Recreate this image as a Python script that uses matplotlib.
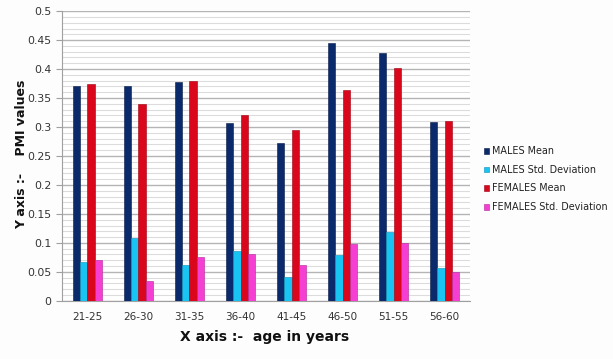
import numpy as np
import matplotlib
matplotlib.use("Agg")
import matplotlib.pyplot as plt
from matplotlib.ticker import MultipleLocator, FuncFormatter

# Data
age_groups = ["21-25", "26-30", "31-35", "36-40", "41-45", "46-50", "51-55", "56-60"]
males_mean = [0.371, 0.371, 0.377, 0.307, 0.272, 0.445, 0.427, 0.309]
males_sd = [0.067, 0.109, 0.061, 0.086, 0.041, 0.079, 0.119, 0.057]
females_mean = [0.374, 0.340, 0.380, 0.321, 0.295, 0.364, 0.402, 0.311]
females_sd = [0.070, 0.034, 0.075, 0.080, 0.061, 0.098, 0.099, 0.050]

series = [
    ("MALES Mean", males_mean, "#0b2a6b", "#061a48"),
    ("MALES Std. Deviation", males_sd, "#19c3f2", "#0d8fb5"),
    ("FEMALES Mean", females_mean, "#d9061c", "#9c0010"),
    ("FEMALES Std. Deviation", females_sd, "#f43fd2", "#b02596"),
]

fig = plt.figure(figsize=(6.13, 3.59), dpi=100, facecolor="#fdfdfd")
ax = fig.add_axes([0.101, 0.162, 0.666, 0.807])
ax.set_facecolor("white")

x = np.arange(len(age_groups))
bar_w = 0.145
for i, (name, vals, color, edge) in enumerate(series):
    ax.bar(x + (i - 1.5) * bar_w, vals, width=bar_w, color=color,
           edgecolor=edge, linewidth=0.4, label=name, zorder=3)

ax.set_xlim(-0.5, len(age_groups) - 0.5)
ax.set_ylim(0, 0.5)
ax.yaxis.set_major_locator(MultipleLocator(0.05))
ax.yaxis.set_minor_locator(MultipleLocator(0.01))
ax.yaxis.set_major_formatter(FuncFormatter(lambda v, p: f"{round(v, 2):g}"))
ax.grid(which="major", axis="y", color="#b4b4b4", linewidth=1.0, zorder=0)
ax.grid(which="minor", axis="y", color="#dcdcdc", linewidth=0.8, zorder=0)

ax.set_xticks(x)
ax.set_xticklabels(age_groups)
ax.tick_params(axis="x", length=0, pad=8, labelsize=7.5, colors="#333333")
ax.tick_params(axis="y", which="major", length=4, width=0.8, color="#a0a0a0",
               labelsize=7.8, labelcolor="#333333")
ax.tick_params(axis="y", which="minor", length=0)

for side in ["top", "right"]:
    ax.spines[side].set_visible(False)
for side in ["left", "bottom"]:
    ax.spines[side].set_color("#a0a0a0")
    ax.spines[side].set_linewidth(0.8)

fig.text(0.035, 0.57, "Y axis :-    PMI values", rotation=90, ha="center",
         va="center", fontsize=9, fontweight="bold", color="#111111")
fig.text(0.432, 0.06, "X axis :-  age in years", ha="center", va="center",
         fontsize=10, fontweight="bold", color="#111111")

ax.legend(loc="center left", bbox_to_anchor=(1.025, 0.42), frameon=False,
          fontsize=6.9, handlelength=0.55, handleheight=0.55, handletextpad=0.25,
          labelspacing=0.9, labelcolor="#222222", borderaxespad=0.0)

fig.savefig("out.png", dpi=100, facecolor=fig.get_facecolor())
